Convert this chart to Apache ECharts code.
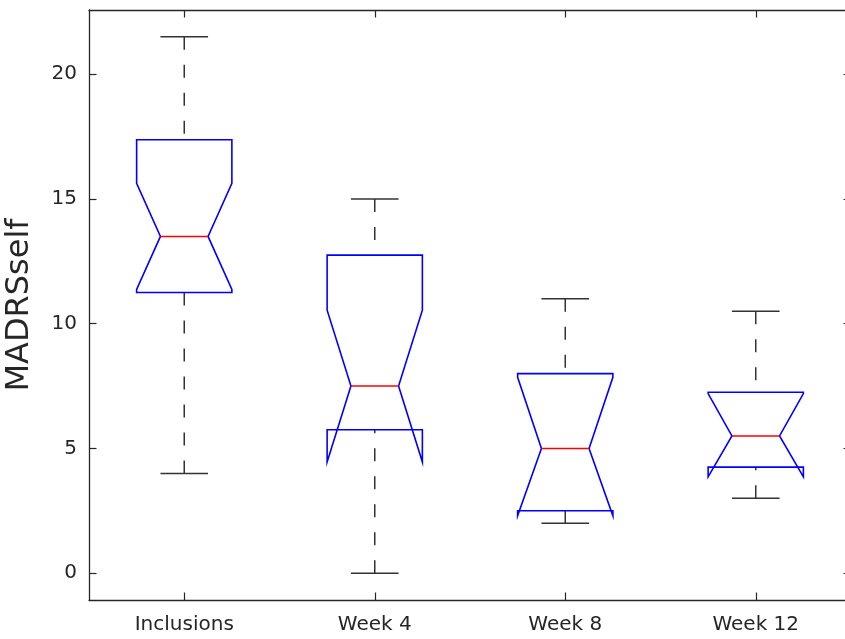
<!DOCTYPE html>
<html>
<head>
<meta charset="utf-8">
<script src="https://cdn.jsdelivr.net/npm/echarts@6/dist/echarts.min.js"></script>
<style>html,body{margin:0;padding:0;background:#fff;}#chart{width:845px;height:639px;}</style>
</head>
<body>
<div id="chart"></div>
<script>
const categories = ['Inclusions', 'Week 4', 'Week 8', 'Week 12'];
const whiskerLow = [4, 0, 2, 3];
const q1 = [11.25, 5.75, 2.5, 4.25];
const median = [13.5, 7.5, 5, 5.5];
const q3 = [17.375, 12.75, 8, 7.25];
const whiskerHigh = [21.5, 15, 11, 10.5];
const notchLow = [11.37, 4.46, 2.3, 3.86];
const notchHigh = [15.63, 10.54, 7.85, 7.2];
const yTicks = [0, 5, 10, 15, 20];
const yMin = -1.075, yMax = 22.575;
const yLabel = 'MADRSself';

const boxData = categories.map((c, i) => [i, whiskerLow[i], q1[i], median[i], q3[i], whiskerHigh[i], notchLow[i], notchHigh[i]]);

const axisColor = '#262626';
const font = 'DejaVu Sans';

function renderBox(params, api) {
  const i = api.value(0);
  const band = api.size([1, 0])[0];
  const hw = band * 0.25, nw = band * 0.125;
  const P = v => api.coord([i, v]);
  const cx = P(0)[0];
  const yy = v => P(v)[1];
  const wlo = yy(api.value(1)), bq1 = yy(api.value(2)), med = yy(api.value(3)),
        bq3 = yy(api.value(4)), whi = yy(api.value(5)), nlo = yy(api.value(6)), nhi = yy(api.value(7));
  const wStyle = {stroke: '#333333', lineWidth: 1.5, lineDash: [13, 15], fill: null};
  const cStyle = {stroke: '#333333', lineWidth: 1.5, fill: null};
  const pts = [
    [cx - hw, bq3], [cx - hw, nhi], [cx - nw, med], [cx - hw, nlo], [cx - hw, bq1],
    [cx + hw, bq1], [cx + hw, nlo], [cx + nw, med], [cx + hw, nhi], [cx + hw, bq3]
  ];
  return {
    type: 'group',
    children: [
      {type: 'line', shape: {x1: cx, y1: whi, x2: cx, y2: bq3}, style: wStyle},
      {type: 'line', shape: {x1: cx, y1: wlo, x2: cx, y2: bq1}, style: wStyle},
      {type: 'line', shape: {x1: cx - nw, y1: whi, x2: cx + nw, y2: whi}, style: cStyle},
      {type: 'line', shape: {x1: cx - nw, y1: wlo, x2: cx + nw, y2: wlo}, style: cStyle},
      {type: 'polygon', shape: {points: pts}, style: {stroke: '#0000ff', lineWidth: 1.6, fill: null}},
      {type: 'line', shape: {x1: cx - nw, y1: med, x2: cx + nw, y2: med}, style: {stroke: '#ff0000', lineWidth: 1.5}}
    ]
  };
}

const chart = echarts.init(document.getElementById('chart'), null, {renderer: 'canvas'});
const xCommon = {
  type: 'category',
  data: categories,
  boundaryGap: true,
  axisLine: {show: true, onZero: false, lineStyle: {color: axisColor, width: 1.3}},
  axisTick: {show: true, inside: true, length: 7.5, alignWithLabel: true, lineStyle: {color: axisColor, width: 1.2}},
  splitLine: {show: false}
};
const yCommon = {
  type: 'value',
  min: yMin,
  max: yMax,
  axisLine: {show: true, onZero: false, lineStyle: {color: axisColor, width: 1.3}},
  axisTick: {show: true, inside: true, length: 7.5, customValues: yTicks, lineStyle: {color: axisColor, width: 1.2}},
  splitLine: {show: false}
};
chart.setOption({
  animation: false,
  backgroundColor: '#ffffff',
  grid: {left: 89, top: 10, width: 762, height: 590, containLabel: false, outerBoundsMode: 'none'},
  xAxis: [
    Object.assign({}, xCommon, {
      position: 'bottom',
      axisLabel: {show: true, margin: 15, color: axisColor, fontFamily: font, fontSize: 20}
    }),
    Object.assign({}, xCommon, {
      position: 'top',
      axisLabel: {show: false}
    })
  ],
  yAxis: [
    Object.assign({}, yCommon, {
      position: 'left',
      name: yLabel,
      nameLocation: 'middle',
      nameGap: 53,
      nameTextStyle: {color: axisColor, fontFamily: font, fontSize: 32},
      axisLabel: {show: true, margin: 12, customValues: yTicks, color: axisColor, fontFamily: font, fontSize: 20}
    }),
    Object.assign({}, yCommon, {
      position: 'right',
      axisLine: {show: false, onZero: false},
      axisLabel: {show: false}
    })
  ],
  series: [{
    type: 'custom',
    xAxisIndex: 0,
    yAxisIndex: 0,
    renderItem: renderBox,
    encode: {x: 0, y: [1, 2, 3, 4, 5, 6, 7]},
    data: boxData,
    clip: false
  }]
});
</script>
</body>
</html>
